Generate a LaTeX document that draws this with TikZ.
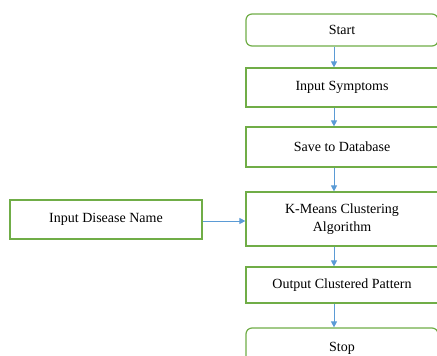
\documentclass[tikz,border=0pt]{standalone}
\usepackage{fontspec}
\setmainfont{Liberation Serif}
\usetikzlibrary{arrows.meta}
\definecolor{boxgreen}{RGB}{112,173,71}
\definecolor{flowblue}{RGB}{91,155,213}
\begin{document}
\begin{tikzpicture}[x=1pt,y=-1pt,
  procbox/.style={draw=boxgreen, line width=1.2pt, fill=white, minimum width=192pt,
    inner sep=2pt, align=center, font=\fontsize{14}{18}\selectfont},
  termbox/.style={procbox, rounded corners=6pt},
  flow/.style={draw=flowblue, line width=1pt, -{Triangle[length=6pt,width=6pt]}}]
\useasboundingbox (0,0) rectangle (437,356);
\clip (0,0) rectangle (437,356);
% main column of steps
\node[termbox, minimum height=32pt] (start) at (342,30) {Start};
\node[procbox, minimum height=39pt] (sym) at (342,87.5) {Input Symptoms};
\node[procbox, minimum height=40pt] (save) at (342,147) {Save to Database};
\node[procbox, minimum height=54pt] (km) at (342,219) {K-Means Clustering\\Algorithm};
\node[procbox, minimum height=36pt] (out) at (342,285) {Output Clustered Pattern};
\node[termbox, minimum height=40pt] (stop) at (342,348) {Stop};
% side input
\node[procbox, minimum height=39pt] (dis) at (106,219.5) {Input Disease Name};
% connectors
\draw[flow] ([xshift=-8pt]start.south) -- ([xshift=-8pt]sym.north);
\draw[flow] ([xshift=-8pt]sym.south) -- ([xshift=-8pt]save.north);
\draw[flow] ([xshift=-8pt]save.south) -- ([xshift=-8pt]km.north);
\draw[flow] ([xshift=-8pt]km.south) -- ([xshift=-8pt]out.north);
\draw[flow] ([xshift=-8pt]out.south) -- ([xshift=-8pt]stop.north);
\draw[flow] ([yshift=-1.5pt]dis.east) -- ([yshift=-1.5pt]dis.east -| km.west);
\end{tikzpicture}
\end{document}
